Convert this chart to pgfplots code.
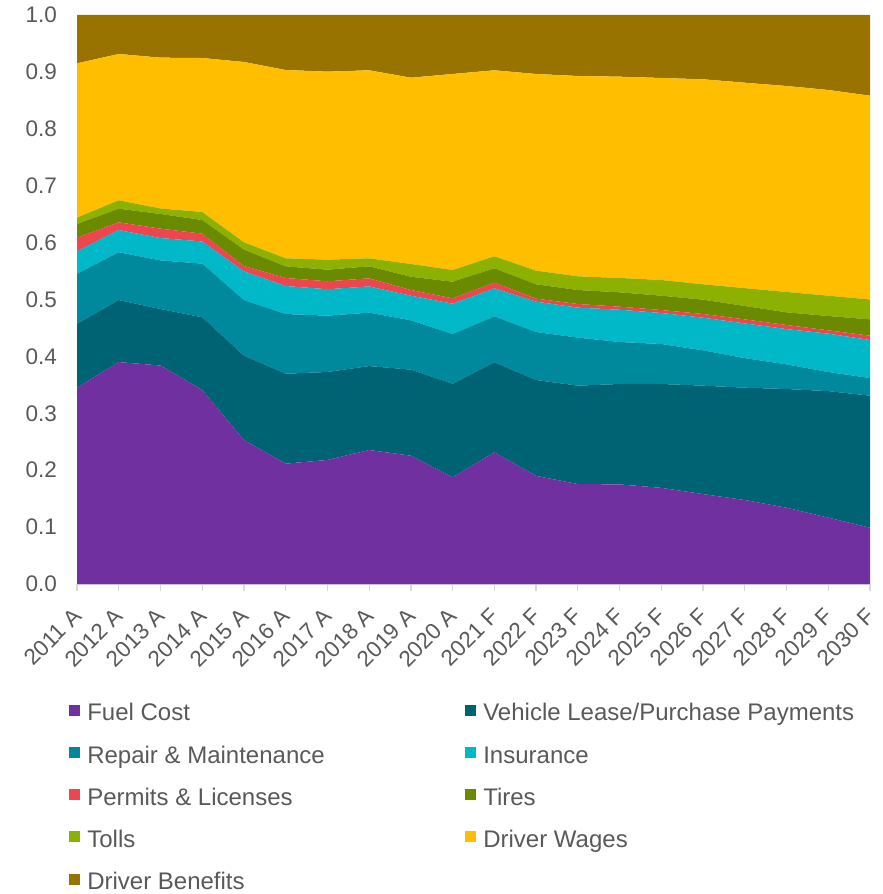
\documentclass[border=0pt]{standalone}
\usepackage{fontspec}
\setmainfont{Liberation Sans}
\usepackage{pgfplots}
\pgfplotsset{compat=1.18}
\usepackage{pgfplotstable}
\definecolor{fuelc}{HTML}{7030A0}
\definecolor{vehc}{HTML}{006373}
\definecolor{repc}{HTML}{00899D}
\definecolor{insc}{HTML}{00B8C8}
\definecolor{permc}{HTML}{EF4550}
\definecolor{tirec}{HTML}{6A8A00}
\definecolor{tollc}{HTML}{8DB100}
\definecolor{wagec}{HTML}{FFBF00}
\definecolor{benc}{HTML}{987300}
\definecolor{txt}{HTML}{595959}
\definecolor{axisgray}{HTML}{D9D9D9}

% shares of cost per mile, one row per year (2011 A ... 2030 F)
\pgfplotstableread{
x  fuel   veh    rep    ins    perm   tires  tolls  wages  ben
0  0.345  0.1125 0.0879 0.0393 0.0240 0.0240 0.0111 0.2712 0.0850
1  0.390  0.1090 0.0840 0.0390 0.0136 0.0240 0.0147 0.2572 0.0685
2  0.384  0.0993 0.0855 0.0392 0.0165 0.0258 0.0097 0.2650 0.0750
3  0.341  0.1277 0.0943 0.0390 0.0137 0.0240 0.0141 0.2706 0.0756
4  0.253  0.1483 0.0977 0.0505 0.0094 0.0287 0.0129 0.3169 0.0826
5  0.2115 0.1581 0.1049 0.0492 0.0141 0.0205 0.0141 0.3309 0.0967
6  0.218  0.1546 0.0990 0.0464 0.0140 0.0204 0.0176 0.3304 0.0996
7  0.2355 0.1475 0.0939 0.0461 0.0142 0.0211 0.0141 0.3304 0.0972
8  0.2255 0.1512 0.0867 0.0433 0.0100 0.0233 0.0224 0.3274 0.1102
9  0.1875 0.1645 0.0874 0.0532 0.0094 0.0293 0.0205 0.3445 0.1037
10 0.2314 0.1582 0.0808 0.0492 0.0100 0.0252 0.0211 0.3269 0.0972
11 0.190  0.1685 0.0844 0.0533 0.0053 0.0252 0.0239 0.3457 0.1037
12 0.1757 0.1729 0.0844 0.0527 0.0064 0.0246 0.0240 0.3521 0.1072
13 0.175  0.1765 0.0738 0.0567 0.0054 0.0252 0.0252 0.3538 0.1084
14 0.169  0.1825 0.0703 0.0545 0.0052 0.0252 0.0276 0.3550 0.1107
15 0.158  0.1906 0.0621 0.0573 0.0065 0.0252 0.0270 0.3603 0.1130
16 0.1476 0.1974 0.0520 0.0610 0.0071 0.0235 0.0314 0.3610 0.1190
17 0.134  0.2087 0.0433 0.0620 0.0072 0.0223 0.0357 0.3620 0.1248
18 0.1166 0.2224 0.0336 0.0674 0.0058 0.0252 0.0357 0.3615 0.1318
19 0.099  0.2320 0.0310 0.0668 0.0076 0.0287 0.0349 0.3582 0.1418
}\costs

\begin{document}
\begin{tikzpicture}[x=1pt,y=1pt]
\useasboundingbox (0,0) rectangle (883,894);
\begin{axis}[
  at={(77pt,310pt)}, anchor=south west,
  width=793pt, height=569pt, scale only axis,
  xmin=0, xmax=19, ymin=0, ymax=1,
  enlargelimits=false,
  stack plots=y,
  axis x line*=bottom, axis y line*=left,
  x axis line style={draw=axisgray, line width=2pt},
  y axis line style={draw=none},
  ytick style={draw=none},
  xtick={0,...,19},
  xticklabels={2011 A,2012 A,2013 A,2014 A,2015 A,2016 A,2017 A,2018 A,2019 A,2020 A,
               2021 F,2022 F,2023 F,2024 F,2025 F,2026 F,2027 F,2028 F,2029 F,2030 F},
  tick align=outside,
  xtick style={draw=axisgray, line width=1.3pt},
  major tick length=7pt,
  xticklabel style={yshift=-21pt, xshift=0.5pt, rotate=45, anchor=east, inner sep=0pt,
                    font=\fontsize{22.5}{26}\selectfont, text=txt},
  ytick={0,0.1,0.2,0.3,0.4,0.5,0.6,0.7,0.8,0.9,1},
  yticklabel style={/pgf/number format/.cd, fixed, fixed zerofill, precision=1,
                    assume math mode=true, /tikz/.cd,
                    anchor=east, inner sep=0pt, xshift=-13pt,
                    font=\fontsize{22.5}{26}\selectfont, text=txt},
  legend image code/.code={\fill[#1,draw=none] (0pt,-1.3pt) rectangle (11pt,9.7pt);},
  legend columns=2,
  legend cell align=left,
  legend style={at={(-0.0097,-0.2104)}, anchor=north west, draw=none, fill=none,
                inner sep=0pt, outer sep=0pt, row sep=21.3pt,
                font=\fontsize{24}{28}\selectfont, text=txt,
                nodes={inner sep=0pt, text height=17pt, text depth=4pt},
                /tikz/every odd column/.append style={column sep=7pt},
                /tikz/every even column/.append style={column sep=0pt}},
]
\addplot[fill=fuelc, draw=none] table[x=x, y=fuel] {\costs} \closedcycle;
\addlegendentry{\makebox[378pt][l]{Fuel Cost}}
\addplot[fill=vehc, draw=none] table[x=x, y=veh] {\costs} \closedcycle;
\addlegendentry{Vehicle Lease/Purchase Payments}
\addplot[fill=repc, draw=none] table[x=x, y=rep] {\costs} \closedcycle;
\addlegendentry{\makebox[378pt][l]{Repair \& Maintenance}}
\addplot[fill=insc, draw=none] table[x=x, y=ins] {\costs} \closedcycle;
\addlegendentry{Insurance}
\addplot[fill=permc, draw=none] table[x=x, y=perm] {\costs} \closedcycle;
\addlegendentry{\makebox[378pt][l]{Permits \& Licenses}}
\addplot[fill=tirec, draw=none] table[x=x, y=tires] {\costs} \closedcycle;
\addlegendentry{Tires}
\addplot[fill=tollc, draw=none] table[x=x, y=tolls] {\costs} \closedcycle;
\addlegendentry{\makebox[378pt][l]{Tolls}}
\addplot[fill=wagec, draw=none] table[x=x, y=wages] {\costs} \closedcycle;
\addlegendentry{Driver Wages}
\addplot[fill=benc, draw=none] table[x=x, y=ben] {\costs} \closedcycle;
\addlegendentry{\makebox[378pt][l]{Driver Benefits}}
\end{axis}
\end{tikzpicture}
\end{document}
